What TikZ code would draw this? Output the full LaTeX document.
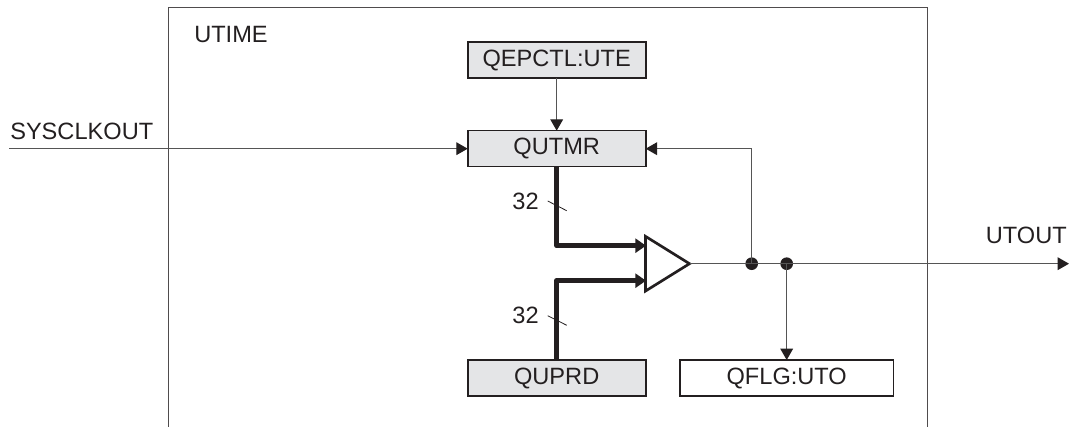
\documentclass[tikz,border=0pt]{standalone}
\usepackage{fontspec}
\setmainfont{Liberation Sans}
\usetikzlibrary{shapes.geometric, arrows.meta}
\definecolor{boxgray}{HTML}{E4E5E7}
\definecolor{inkdark}{HTML}{231F20}
\definecolor{wiregray}{HTML}{555555}
\tikzstyle{arrow} = [line width=0.9pt,draw=wiregray,-{Triangle[length=8.5pt,width=9.5pt,color=inkdark]}]
\begin{document}
\begin{tikzpicture}
        [
            x=0.75pt,y=-0.75pt,
            every node/.style={font=\fontsize{17.7}{20}\selectfont,text=inkdark},
            box/.style={rectangle,draw=inkdark,line width=1.2pt,inner sep=0pt,outer sep=0pt,minimum width=133.5pt,minimum height=27pt},
            reg/.style={box,fill=boxgray},
            dot/.style={circle,fill=inkdark,inner sep=0pt,minimum size=9.5pt},
            amp/.style={isosceles triangle,isosceles triangle apex angle=60,isosceles triangle stretches,draw=inkdark,line width=2pt,line join=miter,inner sep=0pt,outer sep=0pt,minimum width=41pt,minimum height=33pt,fill=white},
            bus/.style={line width=3.75pt,draw=inkdark,line join=round,-{Triangle[length=8pt,width=10.5pt]}},
            wire/.style={line width=0.9pt,draw=wiregray},
            tick/.style={line width=0.6pt,draw=inkdark},
        ]

    \useasboundingbox (0,0) rectangle (1072,427);
    \draw[line width=0.9pt,draw=inkdark!80] (168.5,427) -- (168.5,7.5) -- (927.7,7.5) -- (927.7,427);

    \node[anchor=west,inner sep=0pt] (utime) at (194,35) {UTIME};
    \node[anchor=west,inner sep=0pt] (sysclk) at (10,131) {SYSCLKOUT};
    \node[anchor=east,inner sep=0pt] (utoutlbl) at (1067,235.5) {UTOUT};

    \node[reg] (qepctl) at (556.7,60.3) {QEPCTL:UTE};
    \node[reg] (qutmr) at (556.7,148.7) {QUTMR};
    \node[reg] (quprd) at (556.7,378) {QUPRD};
    \node[box,minimum width=160pt] (qflg) at (786.7,378) {QFLG:UTO};

    \coordinate (clkin) at (9,148.7);
    \coordinate (utout) at (1069,263.7);
    \coordinate (busa) at (646,245.7);
    \coordinate (busb) at (646,280.7);
    \coordinate (feed) at (751.7,148.7);

    \node[dot] (dota) at (751.7,263.7) {};
    \node[dot] (dotb) at (786.7,263.7) {};

    \draw[bus] (qutmr.south) |- (busa);
    \draw[bus] (quprd.north) |- (busb);
    \draw[arrow] (qepctl.south) -- (qutmr.north);
    \draw[arrow] (clkin) -- (qutmr.west);

    \node[amp,anchor=lower side] (cmp) at (645.5,263.7) {};

    \draw[wire] (cmp.apex) -- (dota.center) -- (dotb.center);
    \draw[arrow] (dota.center) -- (feed) -- (qutmr.east);
    \draw[arrow] (dotb.center) -- (utout);
    \draw[arrow] (dotb.center) -- (qflg.north);

    \node (wa) at (525.5,201) {32};
    \node (wb) at (525.5,315) {32};
    \draw[tick] (547.7,201) -- (566.7,210.7);
    \draw[tick] (547.7,315.7) -- (566.7,325.3);
\end{tikzpicture}
\end{document}
